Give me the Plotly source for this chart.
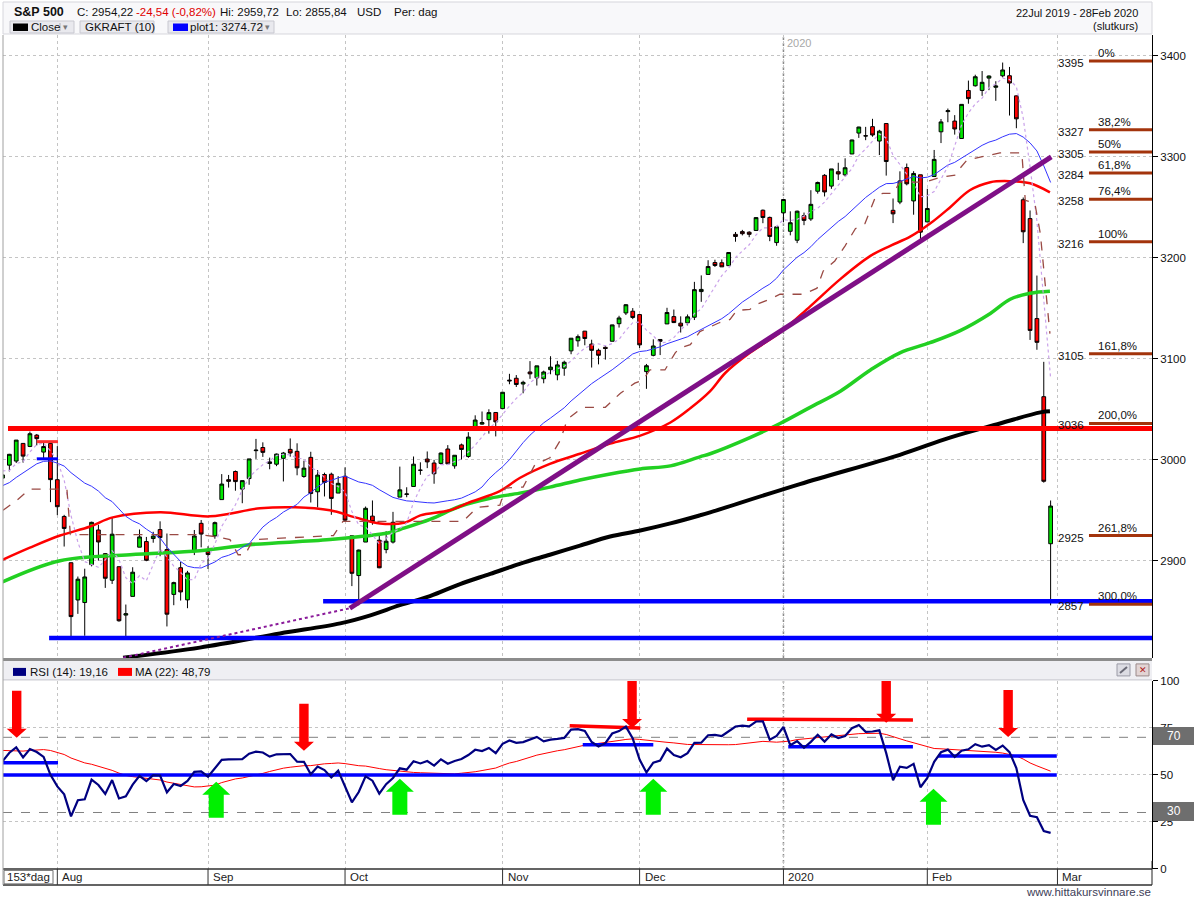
import numpy as np
import pandas as pd
import plotly.graph_objects as go

W, H = 1197, 900
FONT = "Liberation Sans, Arial, sans-serif"

# ---------------- price data (daily OHLC) ----------------
dates = ["2019-07-22","2019-07-23","2019-07-24","2019-07-25","2019-07-26","2019-07-29","2019-07-30","2019-07-31",
 "2019-08-01","2019-08-02","2019-08-05","2019-08-06","2019-08-07","2019-08-08","2019-08-09","2019-08-12","2019-08-13",
 "2019-08-14","2019-08-15","2019-08-16","2019-08-19","2019-08-20","2019-08-21","2019-08-22","2019-08-23","2019-08-26",
 "2019-08-27","2019-08-28","2019-08-29","2019-08-30",
 "2019-09-03","2019-09-04","2019-09-05","2019-09-06","2019-09-09","2019-09-10","2019-09-11","2019-09-12","2019-09-13",
 "2019-09-16","2019-09-17","2019-09-18","2019-09-19","2019-09-20","2019-09-23","2019-09-24","2019-09-25","2019-09-26",
 "2019-09-27","2019-09-30",
 "2019-10-01","2019-10-02","2019-10-03","2019-10-04","2019-10-07","2019-10-08","2019-10-09","2019-10-10","2019-10-11",
 "2019-10-14","2019-10-15","2019-10-16","2019-10-17","2019-10-18","2019-10-21","2019-10-22","2019-10-23","2019-10-24",
 "2019-10-25","2019-10-28","2019-10-29","2019-10-30","2019-10-31",
 "2019-11-01","2019-11-04","2019-11-05","2019-11-06","2019-11-07","2019-11-08","2019-11-11","2019-11-12","2019-11-13",
 "2019-11-14","2019-11-15","2019-11-18","2019-11-19","2019-11-20","2019-11-21","2019-11-22","2019-11-25","2019-11-26",
 "2019-11-27","2019-11-29",
 "2019-12-02","2019-12-03","2019-12-04","2019-12-05","2019-12-06","2019-12-09","2019-12-10","2019-12-11","2019-12-12",
 "2019-12-13","2019-12-16","2019-12-17","2019-12-18","2019-12-19","2019-12-20","2019-12-23","2019-12-24","2019-12-26",
 "2019-12-27","2019-12-30","2019-12-31",
 "2020-01-02","2020-01-03","2020-01-06","2020-01-07","2020-01-08","2020-01-09","2020-01-10","2020-01-13","2020-01-14",
 "2020-01-15","2020-01-16","2020-01-17","2020-01-21","2020-01-22","2020-01-23","2020-01-24","2020-01-27","2020-01-28",
 "2020-01-29","2020-01-30","2020-01-31",
 "2020-02-03","2020-02-04","2020-02-05","2020-02-06","2020-02-07","2020-02-10","2020-02-11","2020-02-12","2020-02-13",
 "2020-02-14","2020-02-18","2020-02-19","2020-02-20","2020-02-21","2020-02-24","2020-02-25","2020-02-26","2020-02-27",
 "2020-02-28"]

open_ = [2981.93,2994.74,2998.77,3016.26,3013.25,3024.47,3007.66,3016.22,
 2980.32,2943.90,2898.07,2861.18,2858.65,2896.21,2930.51,2907.07,2880.72,2894.15,2846.20,2864.74,2913.48,2919.01,
 2922.04,2930.94,2911.07,2866.70,2893.14,2861.28,2910.37,2937.09,
 2909.01,2924.67,2960.60,2980.33,2988.43,2971.01,2981.41,3009.08,3012.21,2996.41,2995.67,3001.50,3010.36,3008.42,
 2983.50,3002.43,2968.35,2985.47,2985.73,2967.07,
 2983.69,2924.78,2885.38,2918.56,2944.23,2920.40,2911.10,2918.55,2963.07,2965.81,2973.61,2989.68,3000.77,2996.84,
 2996.48,3010.73,2994.01,3014.78,3003.32,3032.12,3035.39,3039.74,3046.90,
 3050.72,3078.96,3080.80,3075.10,3087.02,3081.25,3080.33,3089.28,3084.18,3090.75,3107.92,3117.91,3127.45,3114.66,
 3108.49,3111.41,3117.44,3134.85,3145.49,3147.18,
 3143.85,3087.41,3103.50,3119.21,3134.62,3141.86,3135.36,3135.75,3141.23,3166.65,3183.63,3195.40,3195.21,3192.32,
 3223.33,3226.05,3225.45,3227.20,3247.23,3240.09,3215.18,
 3244.67,3226.36,3217.55,3241.86,3238.59,3266.03,3281.81,3271.13,3285.35,3282.27,3302.97,3323.66,3321.03,3330.02,
 3315.77,3333.10,3247.16,3255.35,3289.46,3256.45,3282.33,
 3235.66,3280.61,3324.91,3344.92,3335.54,3318.28,3365.87,3370.50,3365.90,3378.08,3369.04,3380.39,3380.45,3360.50,
 3257.61,3238.94,3139.90,3062.54,2916.90]

high = [2990.71,3005.90,3019.59,3016.31,3027.98,3025.61,3017.19,3017.40,
 3013.59,2945.50,2898.07,2884.40,2892.17,2938.72,2935.75,2907.58,2943.31,2894.15,2856.67,2893.63,2931.00,2923.63,
 2928.73,2939.08,2927.01,2879.27,2898.79,2890.03,2930.50,2940.43,
 2914.39,2938.84,2985.86,2985.03,2989.43,2979.39,3000.93,3020.74,3017.33,3002.19,3006.21,3007.83,3021.19,3016.37,
 2999.15,3007.98,2989.82,2987.28,2987.31,2983.85,
 2992.53,2924.78,2911.13,2953.74,2959.75,2925.47,2929.32,2948.46,2993.28,2972.84,3003.28,2997.54,3008.29,3000.00,
 3007.33,3014.57,3004.78,3016.07,3027.39,3044.08,3047.87,3050.10,3046.90,
 3066.95,3085.20,3083.95,3078.34,3097.77,3093.09,3088.33,3102.61,3098.06,3098.20,3120.46,3124.17,3127.64,3118.97,
 3110.11,3112.87,3133.83,3142.69,3154.26,3150.30,
 3144.31,3094.97,3119.38,3119.45,3150.60,3148.87,3142.12,3143.98,3176.28,3182.68,3197.71,3198.22,3198.48,3205.48,
 3225.65,3227.78,3226.43,3240.08,3247.93,3240.92,3231.72,
 3258.14,3246.15,3246.84,3244.91,3267.07,3275.58,3282.99,3288.13,3294.25,3298.66,3317.11,3329.88,3329.79,3337.77,
 3326.88,3333.18,3258.85,3285.78,3293.47,3285.91,3282.33,
 3268.44,3306.92,3337.58,3347.96,3341.42,3352.26,3375.63,3381.47,3385.09,3380.69,3375.01,3393.52,3389.15,3360.76,
 3259.81,3246.99,3182.51,3097.07,2959.72]

low = [2976.65,2988.56,2996.82,2997.24,3012.59,3014.30,3000.94,2958.08,
 2945.23,2914.11,2822.12,2847.42,2825.71,2894.47,2900.15,2873.14,2877.05,2839.64,2825.51,2864.74,2913.48,2899.60,
 2917.91,2904.51,2834.97,2856.00,2860.59,2853.05,2905.67,2913.32,
 2891.85,2921.86,2960.60,2972.51,2969.39,2957.01,2975.31,3000.92,3002.90,2990.67,2993.73,2978.57,3003.16,2984.68,
 2982.23,2957.73,2952.86,2963.71,2945.53,2967.07,
 2938.70,2874.93,2855.94,2918.56,2935.68,2892.66,2907.41,2917.12,2963.07,2962.94,2973.61,2985.20,2991.79,2976.31,
 2995.35,2995.04,2991.21,3000.42,3001.94,3032.12,3034.81,3025.96,3023.19,
 3050.72,3074.87,3072.15,3065.89,3080.23,3073.58,3075.82,3084.73,3078.80,3083.26,3104.60,3112.06,3113.47,3091.41,
 3094.55,3099.26,3117.44,3131.00,3143.41,3139.34,
 3110.78,3070.33,3102.53,3103.76,3134.62,3135.46,3126.09,3133.21,3138.47,3156.51,3183.63,3191.03,3191.14,3192.32,
 3216.03,3222.30,3220.51,3227.20,3234.37,3216.57,3212.03,
 3235.53,3222.34,3214.64,3232.43,3236.67,3263.67,3260.86,3268.43,3277.19,3280.69,3302.82,3318.86,3316.61,3320.04,
 3301.87,3281.53,3234.50,3253.22,3271.89,3242.80,3214.68,
 3235.66,3280.61,3313.75,3334.39,3322.12,3317.77,3352.72,3369.72,3360.52,3366.15,3355.61,3378.83,3341.02,3328.45,
 3214.65,3118.77,3108.99,2977.39,2855.84]

close = [2985.03,3005.47,3019.56,3003.67,3025.86,3020.97,3013.18,2980.38,
 2953.56,2932.05,2844.74,2881.77,2883.98,2938.09,2918.65,2882.70,2926.32,2840.60,2847.60,2888.68,2923.65,2900.51,
 2924.43,2922.95,2847.11,2878.38,2869.16,2887.94,2924.58,2926.46,
 2906.27,2937.78,2976.00,2978.71,2978.43,2979.39,3000.93,3009.57,3007.39,2997.96,3005.70,3006.73,3006.79,2992.07,
 2991.78,2966.60,2984.87,2977.62,2961.79,2976.74,
 2940.25,2887.61,2910.63,2952.01,2938.79,2893.06,2919.40,2938.13,2970.27,2966.15,2995.68,2989.69,2997.95,2986.20,
 3006.72,2995.99,3004.52,3010.29,3022.55,3039.42,3036.89,3046.77,3037.56,
 3066.91,3078.27,3074.62,3076.78,3085.18,3093.08,3087.01,3091.84,3094.04,3096.63,3120.46,3122.03,3120.18,3108.46,
 3103.54,3110.29,3133.64,3140.52,3153.63,3140.98,
 3113.87,3093.20,3112.76,3117.43,3145.91,3135.96,3132.52,3141.63,3168.57,3168.80,3191.45,3192.52,3191.14,3205.37,
 3221.22,3224.01,3223.38,3239.91,3240.02,3221.29,3230.78,
 3257.85,3234.85,3246.28,3237.18,3253.05,3274.70,3265.35,3288.13,3283.15,3289.29,3316.81,3329.62,3320.79,3321.75,
 3325.54,3295.47,3243.63,3276.24,3273.40,3283.66,3225.52,
 3248.92,3297.59,3334.69,3345.78,3327.71,3352.09,3357.75,3379.45,3373.94,3380.16,3370.29,3386.15,3373.23,3337.75,
 3225.89,3128.21,3116.39,2978.76,2954.22]

# closes before the visible window (May 1 - Jul 19 2019), used for MA/RSI warm-up
warmup_close = [2923.73,2917.52,2945.64,2932.47,2884.05,2879.42,2870.72,2881.40,2811.87,2834.41,2850.96,2876.32,
 2859.53,2840.23,2864.36,2856.27,2822.24,2826.06,2802.39,2783.02,2788.86,2752.06,
 2744.45,2803.27,2826.15,2843.49,2873.34,2886.73,2885.72,2879.84,2891.64,2886.98,2889.67,2917.75,2926.46,2954.18,
 2950.46,2945.35,2917.38,2913.78,2924.92,2941.76,2964.33,2973.01,2995.82,2990.41,2975.95,2979.63,2993.07,2999.91,
 3013.77,3014.30,3004.04,2984.42,2995.11,2976.61]

# ---------------- long moving averages (trading-day index, value) -------------
ma50_x = [0,4.0,8.4,12.8,16.1,23.0,30.3,37.6,42.7,47.8,51.5,55.1,58.8,61.0,65.3,68.2,72.6,75.5,79.9,84.3,88.7,93.1,
          97.5,100.4,103.3,105.5,109.1,113.5,117.9,122.3,126.7,129.6,132.5,135.4,138.3,141.2,144.2,147.1,150.0,152.9]
ma50_y = [2901,2913,2925,2934,2943,2948,2944,2952,2953,2950,2943,2937,2938,2945,2950,2958,2969,2982,2996,3006,3016,3024,
          3037,3051,3068,3086,3106,3126,3152,3179,3202,3212,3221,3234,3250,3267,3275,3276,3274,3265]
ma100_x = [0,8.4,18.6,28.8,36.1,47.8,56.6,58.0,62.4,66.8,71.2,75.5,79.9,84.3,88.7,93.1,97.5,101.8,103.3,109.1,113.5,
           117.9,122.3,126.7,131.0,135.4,139.8,144.2,147.1,150.0,152.9]
ma100_y = [2879,2900,2906,2910,2916,2921,2928,2931,2941,2954,2962,2967,2973,2980,2986,2991,2994,3003,3006,3022,3036,
           3052,3068,3089,3106,3116,3128,3145,3159,3165,3167]
ma200_x = [17.6,28.8,40.5,49.3,53.7,58.0,62.4,66.8,71.2,75.5,79.9,84.3,88.7,93.1,97.5,101.8,103.3,116.4,131.0,138.3,
           145.6,151.5,152.9]
ma200_y = [2804,2814,2828,2838,2846,2856,2865,2877,2887,2897,2906,2915,2924,2930,2937,2945,2948,2976,3005,3022,
           3036,3047,3048]
gkraft_x = [0.07,2.1,4.0,9.4,9.9,28.8,31.0,33.2,34.4,35.4,36.6,42.4,48.3,49.7,67.2,69.3,72.6,73.4,76.0,77.7,79.9,81.4,
            82.4,82.8,84.7,88.0,90.2,92.3,93.5,94.5,96.7,98.2,98.9,100.4,101.8,104.7,106.2,107.2,109.1,110.1,112.0,
            113.5,116.9,118.9,119.8,121.5,123.0,124.5,125.9,127.4,128.5,130.0,131.0,134.7,136.9,139.1,139.8,140.8,
            142.7,145.6,148.8,149.3,150.7,151.5,152.9]
gkraft_y = [2950,2960,2971,2971,2926,2926,2924,2921,2906,2906,2921,2923,2925,2939,2939,2953,2955,2972,2973,2995,3002,3019,
            3039,3042,3052,3052,3066,3076,3079,3089,3089,3106,3111,3114,3127,3136,3139,3148,3149,3154,3159,
            3164,3164,3170,3187,3197,3212,3229,3234,3260,3264,3264,3275,3275,3280,3282,3289,3297,
            3300,3304,3304,3257,3254,3224,3125]

# ---------------- drawings (trading-day index, price) ----------------
res_red_x, res_red_y = [0.8, 168], [3031, 3031]
top_red_x, top_red_y = [5.0, 8.1], [3018, 3018]
top_blue_x, top_blue_y = [5.0, 8.1], [3001, 3001]
sup_low_x, sup_low_y = [6.8, 168], [2823.5, 2823.5]
sup_high_x, sup_high_y = [46.8, 168], [2860, 2860]
trend_x, trend_y = [50.7, 153.1], [2853, 3300]
trend_dot_x, trend_dot_y = [17.6, 50.7], [2804, 2853]

fib_levels = [3395, 3327, 3305, 3284, 3258, 3216, 3105, 3036, 2925, 2857]
fib_pct = ["0%", "38,2%", "50%", "61,8%", "76,4%", "100%", "161,8%", "200,0%", "261,8%", "300,0%"]
fib_x = [158.6, 168]

# RSI drawings
rsi_lines = [  # (x0, x1, y0, y1, colour)
    (0, 153.9, 50, 50, "#0000ff"),
    (0, 8.1, 56.4, 56.4, "#0000ff"),
    (82.8, 93.1, 76.1, 75.0, "#ff0000"),
    (84.7, 95.0, 66.0, 66.0, "#0000ff"),
    (108.7, 132.9, 79.6, 79.2, "#ff0000"),
    (114.7, 132.9, 65.0, 65.0, "#0000ff"),
    (136.6, 153.9, 60.1, 60.1, "#0000ff"),
]
red_arrow_x = [2.07, 44.0, 91.9, 129.0, 146.8]
red_arrow_y = [69.7, 62.8, 75.0, 77.7, 70.2]
green_arrow_x = [31.2, 58.0, 95.0, 135.9]
green_arrow_y = [46.3, 47.9, 47.9, 42.6]

month_labels = ["Aug", "Sep", "Oct", "Nov", "Dec", "2020", "Feb", "Mar"]
month_idx = [8, 30, 50, 73, 93, 114, 135, 154]
price_ticks = [2900, 3000, 3100, 3200, 3300, 3400]
rsi_ticks = [0, 25, 50, 75, 100]

# ---------------- derived indicators ----------------
n_w = len(warmup_close)
all_close = np.array(warmup_close + close, float)
ma5 = pd.Series(all_close).rolling(5).mean().values[n_w:]
ma20 = pd.Series(all_close).rolling(20).mean().values[n_w:]


def rsi_wilder(c, n=14):
    d = np.diff(c)
    g = np.where(d > 0, d, 0.0)
    l = np.where(d < 0, -d, 0.0)
    out = np.full(len(c), np.nan)
    ag, al = g[:n].mean(), l[:n].mean()
    out[n] = 100 - 100 / (1 + ag / al)
    for i in range(n, len(d)):
        ag = (ag * (n - 1) + g[i]) / n
        al = (al * (n - 1) + l[i]) / n
        out[i + 1] = 100 - 100 / (1 + ag / al)
    return out


rsi_all = rsi_wilder(all_close)
rsi = rsi_all[n_w:]
rsi_ma = pd.Series(rsi_all).rolling(22).mean().values[n_w:]

xi = list(range(len(close)))

# ---------------- geometry ----------------
# vertical pixel positions are given in the reference's frame; Y() maps them to the layout frame
V_SCALE, V_OFF = 1.01338, 5.07


def Y(yt):
    return yt * V_SCALE - V_OFF


PX0, PX1 = 3, 1152
XR = [0.07, 167.8]
PY_TOP, PY_BOT = 34, 657
YR = [2803.8, 3420.8]
RY_TOP, RY_BOT = 680, 868
sx = (PX1 - PX0) / (XR[1] - XR[0])
sy_rsi = (RY_BOT - RY_TOP) / 100.0


def xpix(i):
    return PX0 + (i - XR[0]) * sx


fig = go.Figure()

# moving averages (below candles)
fig.add_trace(go.Scatter(x=ma200_x, y=ma200_y, mode="lines", line=dict(color="#000000", width=4, shape="spline"), xaxis="x", yaxis="y"))
fig.add_trace(go.Scatter(x=ma100_x, y=ma100_y, mode="lines", line=dict(color="#22d022", width=3.5, shape="spline"), xaxis="x", yaxis="y"))
fig.add_trace(go.Scatter(x=ma50_x, y=ma50_y, mode="lines", line=dict(color="#ff0000", width=2.5, shape="spline"), xaxis="x", yaxis="y"))
fig.add_trace(go.Scatter(x=xi, y=ma20, mode="lines", line=dict(color="#3333ff", width=1), xaxis="x", yaxis="y"))
fig.add_trace(go.Scatter(x=xi, y=ma5, mode="lines", line=dict(color="#caa2ea", width=1.2, dash="dot"), xaxis="x", yaxis="y"))
fig.add_trace(go.Scatter(x=gkraft_x, y=gkraft_y, mode="lines", line=dict(color="#9a4a44", width=1.3, dash="dash"), xaxis="x", yaxis="y"))

# candles
fig.add_trace(go.Candlestick(
    x=xi, open=open_, high=high, low=low, close=close, xaxis="x", yaxis="y",
    increasing=dict(line=dict(color="#000000", width=1), fillcolor="#00e600"),
    decreasing=dict(line=dict(color="#000000", width=1), fillcolor="#ff0000"),
    whiskerwidth=0, hoverinfo="skip"))

# drawings
for xs, ys, col, w, dash in [
    (res_red_x, res_red_y, "#ff0000", 5, None),
    (top_red_x, top_red_y, "#ff3030", 3, None),
    (top_blue_x, top_blue_y, "#0000ff", 3, None),
    (sup_low_x, sup_low_y, "#0000ff", 4.5, None),
    (sup_high_x, sup_high_y, "#0000ff", 4.5, None),
    (trend_dot_x, trend_dot_y, "#8a1a9a", 2, "dot"),
    (trend_x, trend_y, "#7f0f86", 5, None),
]:
    fig.add_trace(go.Scatter(x=xs, y=ys, mode="lines", line=dict(color=col, width=w, dash=dash), xaxis="x", yaxis="y"))

for lv in fib_levels:
    fig.add_trace(go.Scatter(x=fib_x, y=[lv, lv], mode="lines", line=dict(color="#a3340c", width=3), xaxis="x", yaxis="y"))

# RSI panel
fig.add_trace(go.Scatter(x=[XR[0], 168], y=[70, 70], mode="lines", line=dict(color="#808080", width=1, dash="dash"), xaxis="x2", yaxis="y2"))
fig.add_trace(go.Scatter(x=[XR[0], 168], y=[30, 30], mode="lines", line=dict(color="#808080", width=1, dash="dash"), xaxis="x2", yaxis="y2"))
fig.add_trace(go.Scatter(x=xi, y=rsi_ma, mode="lines", line=dict(color="#ff0000", width=1), xaxis="x2", yaxis="y2"))
for x0, x1, y0, y1, col in rsi_lines:
    fig.add_trace(go.Scatter(x=[x0, x1], y=[y0, y1], mode="lines", line=dict(color=col, width=3.5), xaxis="x2", yaxis="y2"))
fig.add_trace(go.Scatter(x=xi, y=rsi, mode="lines", line=dict(color="#000080", width=2.2), xaxis="x2", yaxis="y2"))

shapes = []
annotations = []


def path_from(tipx, tipy, pts):
    s = ""
    for k, (dx, dy) in enumerate(pts):
        X = tipx + dx / sx
        Yv = tipy + dy / sy_rsi
        s += ("M" if k == 0 else "L") + f"{X:.4f},{Yv:.4f} "
    return s + "Z"


red_pts = [(0, 0), (-10, 9), (-4.7, 9), (-4.7, 47), (4.7, 47), (4.7, 9), (10, 9)]
green_pts = [(0, 0), (-14, -13), (-7.5, -13), (-7.5, -36), (7.5, -36), (7.5, -13), (14, -13)]
for ax_, ay_ in zip(red_arrow_x, red_arrow_y):
    shapes.append(dict(type="path", xref="x2", yref="y2", path=path_from(ax_, ay_, red_pts),
                       fillcolor="#ff0000", line=dict(width=0), layer="above"))
for ax_, ay_ in zip(green_arrow_x, green_arrow_y):
    shapes.append(dict(type="path", xref="x2", yref="y2", path=path_from(ax_, ay_, green_pts),
                       fillcolor="#00f000", line=dict(width=0), layer="above"))

# darker 2020 separators
for yr in ["y", "y2"]:
    shapes.append(dict(type="line", xref="x" if yr == "y" else "x2", yref=yr + " domain", x0=114, x1=114, y0=0, y1=1,
                       line=dict(color="#8c8c8c", width=1.5, dash="dot"), layer="below"))


def prect(x0, y0, x1, y1, fill, line=None, lw=1):
    shapes.append(dict(type="rect", xref="paper", yref="paper", x0=x0 / W, x1=x1 / W,
                       y0=1 - Y(y1) / H, y1=1 - Y(y0) / H,
                       fillcolor=fill, line=dict(color=line if line else fill, width=lw if line else 0), layer="above"))


def pline(x0, y0, x1, y1, col, w=1):
    shapes.append(dict(type="line", xref="paper", yref="paper", x0=x0 / W, x1=x1 / W,
                       y0=1 - Y(y0) / H, y1=1 - Y(y1) / H, line=dict(color=col, width=w), layer="above"))


def ptext(x, y, s, size=11, color="#111111", anchor="left", bold=False):
    annotations.append(dict(x=x / W, y=1 - Y(y) / H, xref="paper", yref="paper", text=(f"<b>{s}</b>" if bold else s),
                            showarrow=False, xanchor=anchor, yanchor="middle", borderpad=0,
                            font=dict(size=size, color=color, family=FONT)))


# header
prect(3, 1, 1152, 33, "#f8f8fa", "#d6d6dc")
ptext(13, 11, "S&P 500", 12.5, "#111111", bold=True)
ptext(76, 11, "C: 2954,22", 11.5)
ptext(135, 11, "-24,54 (-0,82%)", 11.5, "#e00000")
ptext(219, 11, "Hi: 2959,72", 11.5)
ptext(285, 11, "Lo: 2855,84", 11.5)
ptext(356, 11, "USD", 11.5)
ptext(393, 11, "Per: dag", 11.5)
ptext(1139, 12, "22Jul 2019 - 28Feb 2020", 11, anchor="right")
ptext(1139, 25, "(slutkurs)", 11, anchor="right")
prect(10, 20, 74, 32, "#e9e9ee", "#c8c8d0")
prect(13, 22.5, 28, 30, "#000000")
ptext(30, 26, "Close", 11.5)
pline(60, 22, 60, 30, "#b0b0b8")
ptext(62, 26, "▾", 9, "#777777")
prect(80, 20, 154, 32, "#e9e9ee", "#c8c8d0")
ptext(84, 26, "GKRAFT (10)", 11.5)
prect(168, 20, 274, 32, "#e9e9ee", "#c8c8d0")
prect(173, 22.5, 188, 30, "#0000ff")
ptext(189, 26, "plot1: 3274.72", 11.5)
pline(262, 22, 262, 30, "#b0b0b8")
ptext(264, 26, "▾", 9, "#777777")

# 2020 label on the price panel
ptext(786, 42, "2020", 11, "#a8a8a8")

# fib labels
for lv, pc in zip(fib_levels, fib_pct):
    annotations.append(dict(x=158.1, y=lv, xref="x", yref="y", text=str(lv), showarrow=False, xanchor="right",
                            yanchor="middle", yshift=-2, font=dict(size=11.5, color="#111111", family=FONT)))
    annotations.append(dict(x=159.6, y=lv, xref="x", yref="y", text=pc, showarrow=False, xanchor="left",
                            yanchor="middle", yshift=8, font=dict(size=11.5, color="#111111", family=FONT)))

# panel separator and RSI header bar
prect(3, 657, 1152, 660, "#8c8c8c")
prect(3, 660, 1152, 679, "#efeff3")
pline(3, 679, 1152, 679, "#c4c4cc")
prect(13, 667, 26, 675, "#000080")
ptext(29, 671, "RSI (14): 19,16", 11.5)
prect(118, 667, 132, 675, "#ff0000")
ptext(134, 671, "MA (22): 48,79", 11.5)
prect(1117, 663, 1130, 675, "#dcdce3", "#9a9aa6")
pline(1120, 672, 1127, 666, "#6a6a76", 2)
prect(1136, 663, 1149, 675, "#e2d4d4", "#9a8a8a")
ptext(1142.5, 669, "✕", 9, "#b02020", anchor="center")

# 70 / 30 boxes
prect(1153, 726, 1194, 744, "#6e6e6e")
ptext(1173.5, 735, "70", 12, "#ffffff", anchor="center")
prect(1153, 801, 1194, 820, "#6e6e6e")
ptext(1173.5, 810.5, "30", 12, "#ffffff", anchor="center")

# date band
prect(3, 868, 1152, 884, "#ffffff")
pline(3, 868, 1152, 868, "#303030", 1.5)
pline(3, 884, 1152, 884, "#303030", 1.5)
prect(4, 869.5, 53, 883, "#ffffff", "#707070")
ptext(6, 876, "153*dag", 11.5, "#222222")
for lab, mi in zip(month_labels, month_idx):
    xp = xpix(mi)
    pline(xp, 868, xp, 884, "#303030", 1)
    ptext(xp + 4, 876, lab, 11.5, "#222222")
pline(PX1, 860, PX1, 884, "#202020", 1)

# left border
pline(3, 34, 3, 884, "#a0a0a0", 1)

# footer
ptext(1152, 891, "www.hittakursvinnare.se", 11.5, "#404058", anchor="right")

dom_x = [PX0 / W, PX1 / W]
fig.update_layout(
    width=W, height=H, margin=dict(l=0, r=0, t=0, b=0), autosize=False,
    paper_bgcolor="#ffffff", plot_bgcolor="#ffffff", showlegend=False,
    font=dict(family=FONT, size=11, color="#111111"),
    shapes=shapes, annotations=annotations, boxgap=0.22,
    xaxis=dict(domain=dom_x, range=XR, anchor="y", tickvals=month_idx, showticklabels=False, ticks="",
               showgrid=True, gridcolor="#c4c4c4", griddash="dot", gridwidth=1, zeroline=False,
               rangeslider=dict(visible=False), showline=False),
    yaxis=dict(domain=[1 - Y(PY_BOT) / H, 1 - Y(PY_TOP) / H], range=YR, side="right", anchor="x",
               tickvals=price_ticks, ticks="outside", ticklen=5, tickcolor="#000000",
               showline=True, linecolor="#000000", linewidth=1, mirror=False,
               showgrid=True, gridcolor="#c4c4c4", griddash="dot", zeroline=False,
               tickfont=dict(size=11.5, color="#111111")),
    xaxis2=dict(domain=dom_x, range=XR, anchor="y2", tickvals=month_idx, showticklabels=False, ticks="",
                showgrid=True, gridcolor="#c4c4c4", griddash="dot", zeroline=False, showline=False),
    yaxis2=dict(domain=[1 - Y(RY_BOT) / H, 1 - Y(RY_TOP) / H], range=[0, 100], side="right", anchor="x2",
                tickvals=rsi_ticks, ticks="outside", ticklen=5, tickcolor="#000000",
                showline=True, linecolor="#000000", linewidth=1,
                showgrid=True, gridcolor="#c4c4c4", griddash="dot", zeroline=False,
                tickfont=dict(size=11.5, color="#111111")),
)

page_css = ("var s=document.createElement('style');"
            "s.textContent='html,body{margin:0!important;padding:0!important;overflow:hidden!important;"
            "width:1197px;height:900px;}';"
            "document.head.appendChild(s);")
fig.write_html("out.html", config={"displayModeBar": False, "responsive": False}, post_script=page_css)
